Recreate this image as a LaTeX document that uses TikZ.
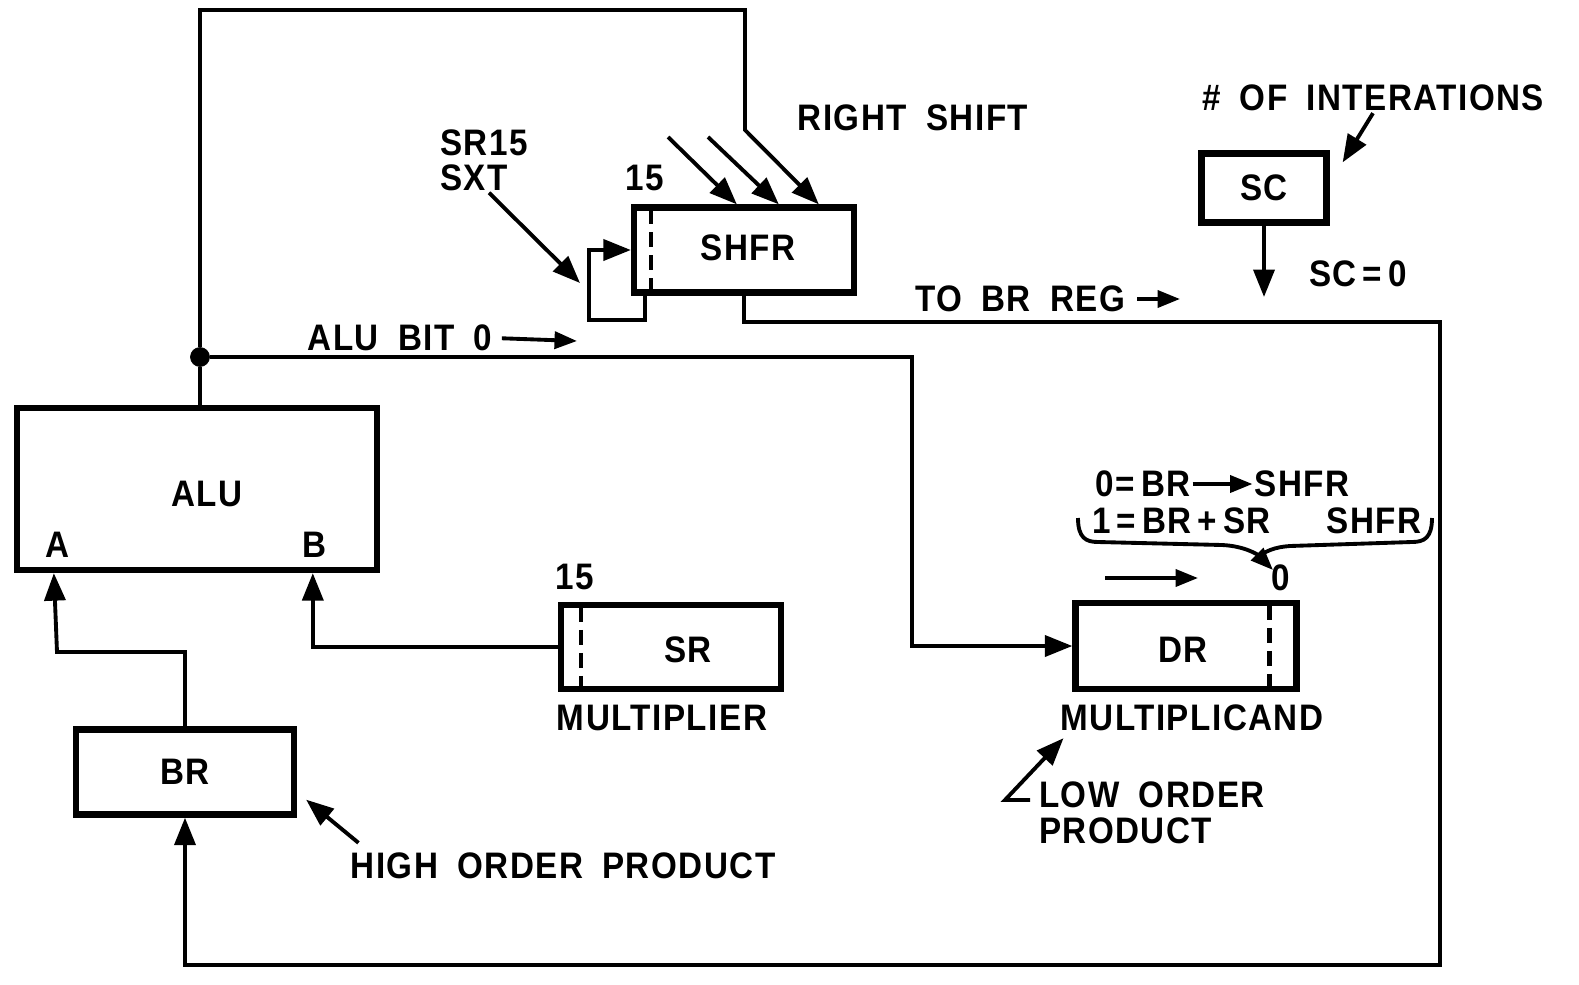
\documentclass[tikz,border=0pt]{standalone}
\usepackage{fontspec}
\setmainfont{Liberation Sans}[FakeStretch=0.9,LetterSpace=4,WordSpace=1.8]
\usetikzlibrary{arrows.meta}

\begin{document}
\begin{tikzpicture}[x=0.02cm, y=-0.02cm,
    font=\fontsize{21}{20}\selectfont\bfseries,
    nodes={inner sep=1pt},
    reg/.style={draw, line width=3.6pt, rectangle, inner sep=0},
    wire/.style={line width=2.2pt},
    arr/.style={wire, -{Triangle[length=0.55cm,width=0.42cm]}},
    smallarr/.style={wire, -{Triangle[length=0.45cm,width=0.34cm]}},
    split/.style={line width=2.6pt, dash pattern=on 0.3cm off 0.16cm},
    dot/.style={draw, circle, fill=black, inner sep=0, minimum size=0.38cm}]
\useasboundingbox (0,0) rectangle (1579,984);

\node (alu) [reg, minimum width=7.2cm, minimum height=3.24cm] at (197,489) {};
\node (alutxt) at (207,494) {ALU};
\node (ina) at (57,545) {A};
\node (inb) at (314,545) {B};
\node (br) [reg, minimum width=4.36cm, minimum height=1.7cm] at (185,772) {BR};
\node (sr) [reg, minimum width=4.4cm, minimum height=1.68cm] at (671,647) {};
\node (srtxt) at (688,650) {SR};
\node (shfr) [reg, minimum width=4.4cm, minimum height=1.7cm] at (744,250) {};
\node (shfrtxt) at (748,248) {SHFR};
\node (dr) [reg, minimum width=4.42cm, minimum height=1.72cm] at (1186,646) {};
\node (drtxt) at (1183,650) {DR};
\node (sc) [reg, minimum width=2.5cm, minimum height=1.38cm] at (1264,188) {SC};
\node (junc) [dot] at (200,357) {};

\draw[split] ([xshift=0.46cm,yshift=-0.1cm]sr.north west) -- ([xshift=0.46cm]sr.south west);
\draw[split] ([xshift=0.4cm,yshift=-0.1cm]shfr.north west) -- ([xshift=0.4cm]shfr.south west);
\draw[split] ([xshift=-0.6cm,yshift=-0.1cm]dr.north east) -- ([xshift=-0.6cm]dr.south east);

\node (sr15) at (575,577) {15};
\node (shfr15) at (645,178) {15};
\node (mplier) at (662,718) {MULTIPLIER};
\node (mcand) at (1192,718) {MULTIPLICAND};
\node (rshift) at (913,118) {RIGHT SHIFT};
\node (sxt) [align=left] at (484,160) {SR15\\SXT};
\node (alubit) at (400,338) {ALU BIT 0};
\node (tobr) at (1020,299) {TO BR REG};
\node (hop) at (563,866) {HIGH ORDER PRODUCT};
\node (lop) [align=left, anchor=north west] at (1037,780) {LOW ORDER\\PRODUCT};
\node (iter) at (1373,98) {\# OF INTERATIONS};
\node (sczero) at (1358,274) {SC\,=\,0};
\node (c0a) at (1143,484) {0=\,BR};
\node (c0b) at (1302,484) {SHFR};
\node (c1a) [anchor=west] at (1090,521) {1\,=\,BR\,+\,SR};
\node (c1b) at (1374,521) {SHFR};
\node (bit0) at (1281,578) {0};

\coordinate (rs1) at (668,137);
\coordinate (rs2) at (708,137);
\coordinate (alubitend) at (577,341);
\coordinate (tobrend) at (1180,299);
\coordinate (sxtend) at (580,283);
\coordinate (lopfoot) at (1030,800);
\coordinate (scout) at (1264,297);
\coordinate (shl) at (1105,578);
\coordinate (shr) at (1198,578);

% ALU output
\draw[wire] (junc) -- (junc |- alu.north);
\draw[arr] (junc) -- (200,10) -- (745,10) -- (745,130) -- ([xshift=3.76cm]shfr.north west);
\draw[arr] (rs1) -- ([xshift=2.12cm]shfr.north west);
\draw[arr] (rs2) -- ([xshift=2.96cm]shfr.north west);
\draw[arr] (junc) -| (912,646) -- (dr.west);

% shifter outputs
\draw[arr] (shfr.south) |- (1440,322) -- (1440,965) -| (br.south);
\draw[arr] ([xshift=0.28cm]shfr.south west) |- (589,320) |- (shfr.west);
\draw[arr] ([xshift=0.1cm]sxt.south) -- (sxtend);

% ALU inputs
\draw[arr] (br.north) |- (57,652) -- ([xshift=0.8cm]alu.south west);
\draw[arr] (sr.west) -| ([xshift=5.98cm]alu.south west);

% notes
\draw[smallarr, shorten <=0.15cm] (alubit.east) -- (alubitend);
\draw[smallarr, shorten <=0.2cm] (tobr.east) -- (tobrend);
\draw[arr] ([shift={(0.2cm,0.16cm)}]hop.north west) -- ([shift={(0.18cm,0.36cm)}]br.south east);
\draw[arr] (lopfoot) -- (1005,800) -- ([shift={(0.1cm,-0.1cm)}]mcand.south west);
\draw[arr] (iter.south) -- ([shift={(0.26cm,-0.24cm)}]sc.north east);
\draw[arr] (sc.south) -- (scout);
\draw[smallarr] (c0a.east) -- (c0b.west);
\draw[smallarr] (shl) -- (shr);
\draw[smallarr] (1078,518) .. controls (1078,538) and (1086,542) .. (1098,542) -- (1222,545)
    .. controls (1245,546) and (1258,555) .. (1273,570);
\draw[wire] (1432,518) .. controls (1432,538) and (1424,542) .. (1412,542) -- (1290,546)
    .. controls (1275,547) and (1265,551) .. (1257,558);
\end{tikzpicture}
\end{document}
